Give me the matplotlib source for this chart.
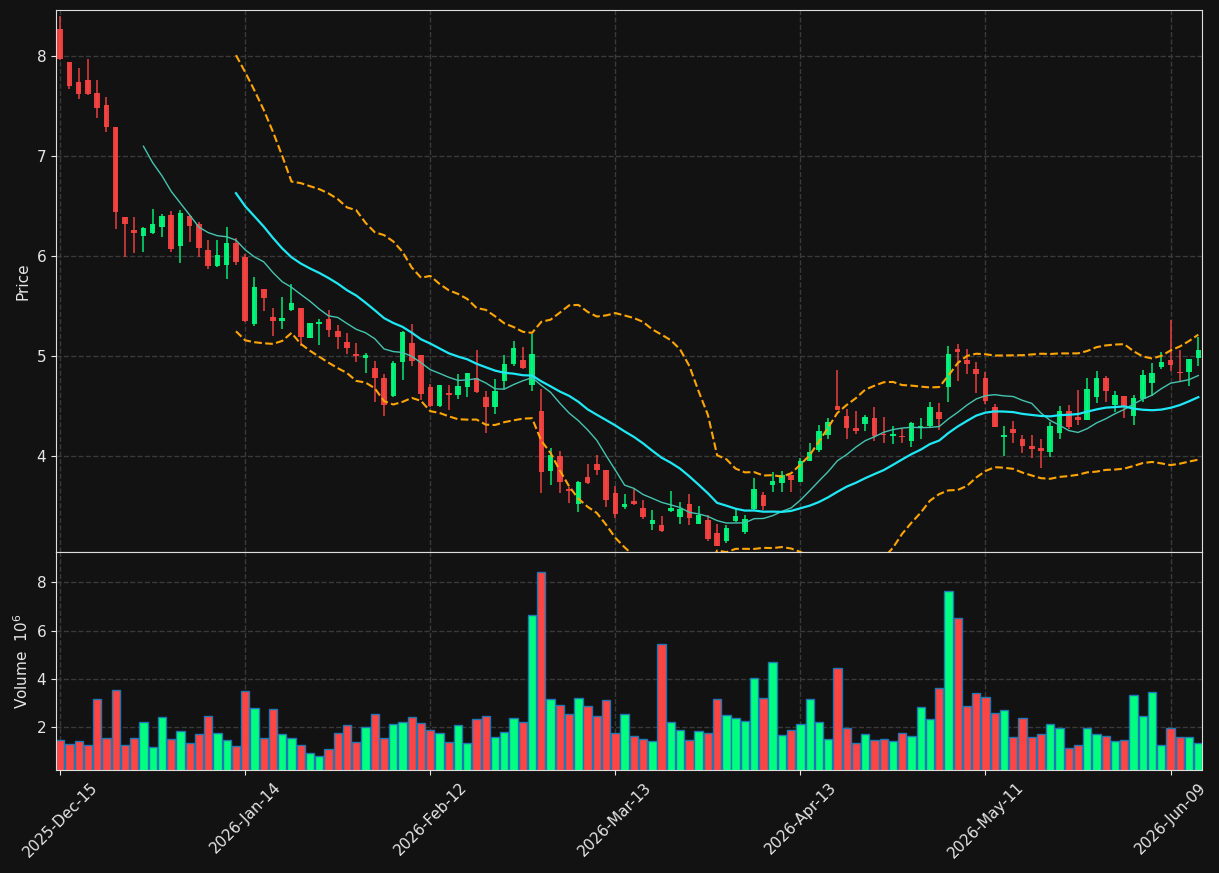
import numpy as np
import pandas as pd
import matplotlib
matplotlib.use("Agg")
import matplotlib.pyplot as plt

# trading days (NYSE holidays skipped)
holidays = ['2025-12-25', '2026-01-01', '2026-01-19', '2026-02-16', '2026-04-03', '2026-05-25']
dates = pd.bdate_range('2025-12-15', periods=124, freq='C', holidays=holidays)

opens = [8.27, 7.94, 7.735, 7.76, 7.625, 7.505, 7.285, 6.385, 6.255, 6.198,
         6.228, 6.288, 6.405, 6.098, 6.395, 6.315, 6.055, 5.895, 5.905, 6.128,
         5.985, 5.315, 5.665, 5.385, 5.348, 5.458, 5.475, 5.178, 5.315, 5.365,
         5.245, 5.135, 5.015, 4.978, 4.872, 4.772, 4.595, 4.938, 5.122, 5.005,
         4.685, 4.498, 4.628, 4.605, 4.688, 4.772, 4.585, 4.488, 4.748, 4.918,
         4.955, 4.708, 4.445, 3.848, 3.992, 3.665, 3.518, 3.785, 3.915, 3.855,
         3.625, 3.488, 3.545, 3.472, 3.315, 3.305, 3.448, 3.385, 3.515, 3.315,
         3.355, 3.225, 3.145, 3.345, 3.238, 3.462, 3.605, 3.705, 3.728, 3.805,
         3.735, 3.948, 4.058, 4.202, 4.495, 4.395, 4.275, 4.318, 4.375, 4.218,
         4.198, 4.198, 4.148, 4.282, 4.295, 4.435, 4.685, 5.065, 4.958, 4.865,
         4.778, 4.485, 4.185, 4.265, 4.165, 4.095, 4.075, 4.038, 4.228, 4.445,
         4.385, 4.355, 4.585, 4.775, 4.502, 4.595, 4.395, 4.565, 4.728, 4.888,
         4.952, 4.835, 4.838, 4.978]
highs = [8.395, 7.94, 7.88, 7.97, 7.755, 7.59, 7.285, 6.385, 6.382, 6.288,
         6.462, 6.412, 6.442, 6.452, 6.405, 6.335, 6.155, 6.155, 6.282, 6.172,
         6.015, 5.782, 5.67, 5.472, 5.582, 5.718, 5.475, 5.325, 5.362, 5.452,
         5.302, 5.222, 5.122, 5.025, 4.942, 4.812, 4.945, 5.248, 5.312, 5.005,
         4.715, 4.705, 4.702, 4.812, 4.825, 5.052, 4.642, 4.762, 5.005, 5.145,
         5.082, 5.215, 4.665, 4.078, 4.042, 3.682, 3.745, 3.912, 4.002, 3.855,
         3.697, 3.612, 3.665, 3.555, 3.455, 3.392, 3.645, 3.532, 3.615, 3.492,
         3.405, 3.312, 3.308, 3.465, 3.402, 3.772, 3.635, 3.832, 3.845, 3.81,
         3.978, 4.122, 4.305, 4.378, 4.855, 4.465, 4.445, 4.405, 4.482, 4.382,
         4.292, 4.272, 4.332, 4.372, 4.535, 4.522, 5.095, 5.112, 5.062, 4.932,
         4.838, 4.512, 4.292, 4.342, 4.208, 4.202, 4.162, 4.335, 4.492, 4.502,
         4.652, 4.775, 4.845, 4.792, 4.642, 4.60, 4.602, 4.852, 4.922, 5.038,
         5.355, 5.055, 4.965, 5.185]
lows = [7.96, 7.665, 7.57, 7.605, 7.378, 7.238, 6.262, 5.982, 6.022, 6.032,
        6.212, 6.188, 6.032, 5.922, 6.132, 5.988, 5.862, 5.882, 5.762, 5.902,
        5.34, 5.298, 5.448, 5.195, 5.262, 5.448, 5.095, 5.178, 5.108, 5.188,
        5.068, 5.012, 4.938, 4.828, 4.532, 4.392, 4.585, 4.752, 4.895, 4.555,
        4.482, 4.482, 4.458, 4.562, 4.582, 4.622, 4.228, 4.412, 4.665, 4.895,
        4.865, 4.648, 3.622, 3.702, 3.622, 3.522, 3.432, 3.712, 3.802, 3.482,
        3.375, 3.462, 3.508, 3.368, 3.252, 3.238, 3.435, 3.318, 3.308, 3.312,
        3.148, 3.095, 3.128, 3.338, 3.218, 3.455, 3.455, 3.632, 3.632, 3.632,
        3.735, 3.948, 4.038, 4.168, 4.455, 4.168, 4.218, 4.248, 4.142, 4.128,
        4.118, 4.125, 4.082, 4.168, 4.282, 4.252, 4.532, 4.748, 4.812, 4.622,
        4.518, 4.282, 3.992, 4.122, 4.022, 3.972, 3.872, 3.982, 4.168, 4.262,
        4.308, 4.355, 4.528, 4.532, 4.438, 4.378, 4.302, 4.538, 4.595, 4.862,
        4.848, 4.738, 4.695, 4.895]
closes = [7.965, 7.70, 7.62, 7.615, 7.478, 7.288, 6.438, 6.318, 6.228, 6.275,
          6.315, 6.395, 6.065, 6.425, 6.295, 6.078, 5.895, 6.005, 6.125, 5.935,
          5.348, 5.685, 5.578, 5.348, 5.375, 5.525, 5.188, 5.322, 5.338, 5.258,
          5.188, 5.078, 4.998, 5.005, 4.778, 4.505, 4.922, 5.235, 4.948, 4.618,
          4.498, 4.705, 4.608, 4.695, 4.825, 4.635, 4.488, 4.648, 4.915, 5.075,
          4.878, 5.015, 3.838, 4.002, 3.738, 3.648, 3.732, 3.728, 3.858, 3.558,
          3.418, 3.515, 3.518, 3.385, 3.355, 3.248, 3.475, 3.465, 3.375, 3.408,
          3.165, 3.095, 3.275, 3.395, 3.365, 3.665, 3.495, 3.745, 3.802, 3.755,
          3.945, 4.035, 4.245, 4.335, 4.455, 4.278, 4.248, 4.382, 4.195, 4.205,
          4.215, 4.185, 4.325, 4.295, 4.482, 4.365, 5.015, 5.038, 4.918, 4.815,
          4.545, 4.285, 4.205, 4.228, 4.098, 4.065, 4.048, 4.295, 4.445, 4.282,
          4.355, 4.665, 4.775, 4.645, 4.605, 4.495, 4.575, 4.805, 4.825, 4.935,
          4.908, 4.828, 4.965, 5.055]
# volume in millions
volumes = [1.49, 1.33, 1.45, 1.28, 3.19, 1.56, 3.56, 1.28, 1.56, 2.24,
           1.19, 2.44, 1.53, 1.86, 1.37, 1.74, 2.48, 1.78, 1.49, 1.24,
           3.52, 2.82, 1.56, 2.77, 1.74, 1.57, 1.28, 0.95, 0.81, 1.12,
           1.78, 2.11, 1.41, 2.03, 2.57, 1.57, 2.15, 2.24, 2.44, 2.19,
           1.90, 1.78, 1.41, 2.11, 1.37, 2.36, 2.48, 1.62, 1.82, 2.40,
           2.24, 6.66, 8.40, 3.19, 2.94, 2.57, 3.23, 2.90, 2.48, 3.15,
           1.78, 2.57, 1.66, 1.53, 1.45, 5.46, 2.24, 1.90, 1.49, 1.86,
           1.78, 3.19, 2.53, 2.40, 2.28, 4.06, 3.23, 4.72, 1.70, 1.90,
           2.15, 3.19, 2.24, 1.53, 4.47, 1.99, 1.37, 1.74, 1.49, 1.53,
           1.45, 1.78, 1.66, 2.86, 2.36, 3.64, 7.61, 6.50, 2.90, 3.44,
           3.27, 2.61, 2.73, 1.62, 2.40, 1.62, 1.74, 2.15, 1.99, 1.14,
           1.28, 1.99, 1.74, 1.66, 1.45, 1.49, 3.35, 2.48, 3.48, 1.28,
           1.99, 1.62, 1.62, 1.37]

up_color = '#00ff80'
down_color = '#ff4444'
bg = '#121212'

x = np.arange(len(closes))
o = np.array(opens)
c = np.array(closes)
colors = np.where(c >= o, up_color, down_color)

close_s = pd.Series(closes)
sma10 = close_s.rolling(10).mean()
sma20 = close_s.rolling(20).mean()
std20 = close_s.rolling(20).std()
upper = sma20 + 2 * std20
lower = sma20 - 2 * std20

fig = plt.figure(figsize=(12.19, 8.73), dpi=100, facecolor=bg)
ax = fig.add_axes([56 / 1219, 1 - 552 / 873, 1146 / 1219, 542 / 873])
axv = fig.add_axes([56 / 1219, 1 - 770 / 873, 1146 / 1219, 218 / 873], sharex=ax)

for a in (ax, axv):
    a.set_facecolor(bg)
    for s in a.spines.values():
        s.set_color('#dddddd')
    a.grid(True, color='#3a3a3a', linestyle='--', linewidth=1)
    a.set_axisbelow(True)
    a.tick_params(colors='#e6e6e6', labelsize=11)

# candles
ax.vlines(x, lows, highs, colors=colors, linewidth=1.1, alpha=0.9)
ax.bar(x, c - o, bottom=o, width=0.6, color=colors, alpha=0.9, linewidth=0)

ax.plot(x, sma10, color='#45c4b0', linewidth=1)
ax.plot(x, sma20, color='#1ee8f5', linewidth=1.6)
ax.plot(x, upper, color='#ffa500', linestyle='--', linewidth=1.5)
ax.plot(x, lower, color='#ffa500', linestyle='--', linewidth=1.5)

ax.set_ylim(min(lows) - 0.06, max(highs) + 0.06)
ax.set_yticks([4, 5, 6, 7, 8])
ax.set_ylabel('Price', color='#e6e6e6', fontsize=11)
plt.setp(ax.get_xticklabels(), visible=False)

# volume
axv.bar(x, volumes, width=0.9, color=colors, edgecolor='#1f77b4', linewidth=1)
axv.set_ylim(0.3 * min(volumes), 1.1 * max(volumes))
axv.set_yticks([2, 4, 6, 8])
axv.set_ylabel('Volume  $10^6$', color='#e6e6e6', fontsize=11)

tick_pos = list(range(0, len(x), 20))
axv.set_xticks(tick_pos)
axv.set_xticklabels([dates[i].strftime('%Y-%b-%d') for i in tick_pos],
                    rotation=45, ha='center')
axv.set_xlim(-0.45, len(x) - 0.6)

fig.savefig('out.png', dpi=100, facecolor=bg)
